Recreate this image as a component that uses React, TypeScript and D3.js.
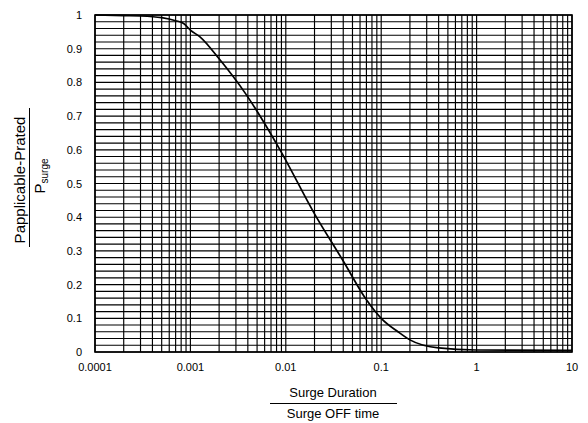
import React from "react";
import * as d3 from "d3";

const xDomain = [0.0001, 10];
const yDomain = [0, 1];
const xTickLabels = ["0.0001", "0.001", "0.01", "0.1", "1", "10"];
const xTickValues = [0.0001, 0.001, 0.01, 0.1, 1, 10];
const yTickValues = [0, 0.1, 0.2, 0.3, 0.4, 0.5, 0.6, 0.7, 0.8, 0.9, 1];
const yTickLabels = ["0", "0.1", "0.2", "0.3", "0.4", "0.5", "0.6", "0.7", "0.8", "0.9", "1"];

const curveX = [0.0001, 0.0002, 0.0003, 0.0005, 0.0007, 0.00085, 0.001, 0.00126, 0.002, 0.0038, 0.0087, 0.02, 0.04, 0.07, 0.1, 0.15, 0.2, 0.4, 1, 10];
const curveY = [1.0, 0.998, 0.997, 0.992, 0.983, 0.975, 0.955, 0.935, 0.87, 0.766, 0.6, 0.41, 0.27, 0.155, 0.1, 0.06, 0.036, 0.012, 0.006, 0.005];

export default function App() {
  const W = 588, H = 423;
  const left = 95, right = 572, top = 15, bottom = 352;
  const x = d3.scaleLog().domain(xDomain).range([left, right]);
  const y = d3.scaleLinear().domain(yDomain).range([bottom, top]);

  const vLines: number[] = [];
  for (let e = -4; e < 1; e++) {
    for (let k = 1; k <= 9; k++) vLines.push(k * Math.pow(10, e));
  }
  vLines.push(10);
  const hLines = d3.range(0, 51).map((i) => i * 0.02);

  const data = curveX.map((v, i) => [v, curveY[i]] as [number, number]);
  const line = d3
    .line<[number, number]>()
    .x((d) => x(d[0]))
    .y((d) => y(d[1]))
    .curve(d3.curveMonotoneX);

  const font = "'Liberation Sans', Arial, sans-serif";

  return (
    <svg width={W} height={H} style={{ position: "absolute", left: 0, top: 0 }} fontFamily={font}>
      <rect x={0} y={0} width={W} height={H} fill="white" />
      {hLines.map((v, i) => (
        <line key={"h" + i} x1={left} x2={right} y1={y(v)} y2={y(v)} stroke="#000" strokeWidth={1.15} />
      ))}
      {vLines.map((v, i) => (
        <line key={"v" + i} x1={x(v)} x2={x(v)} y1={top} y2={bottom} stroke="#000" strokeWidth={1.15} />
      ))}
      <rect x={left} y={top} width={right - left} height={bottom - top} fill="none" stroke="#000" strokeWidth={1.6} />
      <path d={line(data) || ""} fill="none" stroke="#000" strokeWidth={1.7} />
      {yTickValues.map((v, i) => (
        <text key={"yt" + i} x={82} y={y(v) + 4} textAnchor="end" fontSize={11} fill="#000">
          {yTickLabels[i]}
        </text>
      ))}
      {xTickValues.map((v, i) => (
        <text key={"xt" + i} x={x(v)} y={371} textAnchor="middle" fontSize={11} fill="#000">
          {xTickLabels[i]}
        </text>
      ))}
      <text x={333} y={397} textAnchor="middle" fontSize={13} fill="#000">Surge Duration</text>
      <line x1={270} x2={397} y1={403.5} y2={403.5} stroke="#000" strokeWidth={1} />
      <text x={333} y={418} textAnchor="middle" fontSize={13} fill="#000">Surge OFF time</text>
      <g transform="translate(25,180) rotate(-90)">
        <text x={0} y={0} textAnchor="middle" fontSize={15} fill="#000">Papplicable-Prated</text>
      </g>
      <line x1={29.5} x2={29.5} y1={108} y2={247} stroke="#000" strokeWidth={1} />
      <g transform="translate(45,176) rotate(-90)">
        <text x={0} y={0} textAnchor="middle" fontSize={15} fill="#000">
          P<tspan fontSize={10} dy={3}>surge</tspan>
        </text>
      </g>
    </svg>
  );
}
